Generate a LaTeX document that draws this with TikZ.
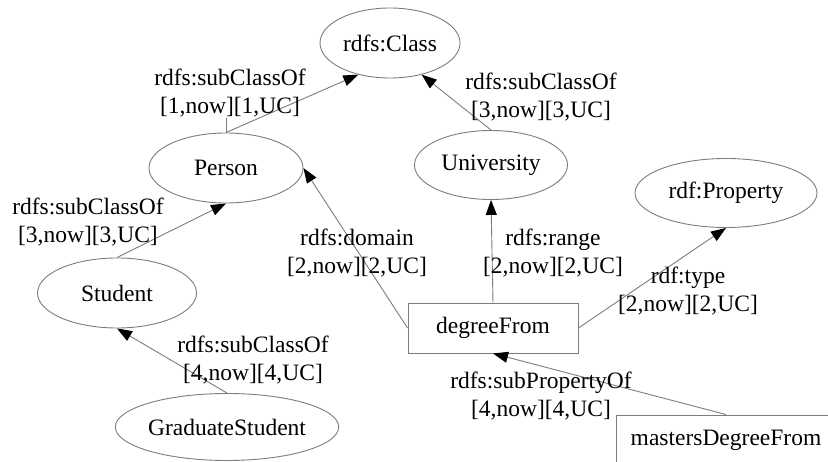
\documentclass[tikz,border=0pt]{standalone}
\usepackage{fontspec}
\setmainfont{Liberation Serif}
\usetikzlibrary{shapes.geometric,arrows.meta}
\definecolor{linegray}{RGB}{125,125,125}
\tikzset{
  every node/.style={font=\fontsize{23.5}{28}\selectfont},
  ell/.style={ellipse,draw=linegray,line width=0.9pt,inner sep=0pt},
  boxnode/.style={rectangle,draw=linegray,line width=0.9pt,inner sep=0pt},
  edge/.style={draw=linegray,line width=0.9pt,-{Triangle[length=15pt,width=11pt,color=black,fill=black]},shorten >=0pt},
  lbl/.style={align=center,inner sep=0pt}
}
\begin{document}
\begin{tikzpicture}[x=1pt,y=-1pt]
\useasboundingbox (0,0) rectangle (828,462);
\clip (0,0) rectangle (828,462);
\fill[white] (0,0) rectangle (828,462);
% nodes
\node[ell,minimum width=140pt,minimum height=70pt] (class) at (390,43) {rdfs:Class};
\node[ell,minimum width=154pt,minimum height=70pt] (person) at (226,168) {Person};
\node[ell,minimum width=153pt,minimum height=69pt] (univ) at (491,165) {University};
\node[ell,minimum width=182pt,minimum height=69pt] (prop) at (726,193) {rdf:Property};
\node[ell,minimum width=159pt,minimum height=70pt] (student) at (117,293) {Student};
\node[ell,minimum width=217pt,minimum height=67pt] (gs) at (227,427) {GraduateStudent};
\node[boxnode,minimum width=170pt,minimum height=50pt] (df) at (493,328) {degreeFrom};
\node[boxnode,minimum width=220pt,minimum height=50pt] (mdf) at (726,440) {mastersDegreeFrom};
% edges
\draw[edge] (person.north) -- (class.225);
\draw[linegray,line width=0.9pt] (person.north) -- ++(0,-15) coordinate (tick);
\draw[edge] (univ.north) -- (class.315);
\draw[edge] (student.north) -- (person.south);
\draw[edge] (gs.north) -- (student.south);
\draw[edge] (df.west) -- (person.east);
\draw[edge] (df.north) -- (univ.south);
\draw[edge] (df.east) -- (prop.south);
\draw[edge] (mdf.north) -- (df.south);
% labels
\node[lbl] (l1) at (230,93) {rdfs:subClassOf\\{}[1,now][1,UC]};
\node[lbl] (l2) at (541,97) {rdfs:subClassOf\\{}[3,now][3,UC]};
\node[lbl] (l3) at (88,222) {rdfs:subClassOf\\{}[3,now][3,UC]};
\node[lbl] (l4) at (357,253) {rdfs:domain\\{}[2,now][2,UC]};
\node[lbl] (l5) at (553,253) {rdfs:range\\{}[2,now][2,UC]};
\node[lbl] (l6) at (688,291) {rdf:type\\{}[2,now][2,UC]};
\node[lbl] (l7) at (253,360) {rdfs:subClassOf\\{}[4,now][4,UC]};
\node[lbl] (l8) at (541,396) {rdfs:subPropertyOf\\{}[4,now][4,UC]};
\end{tikzpicture}
\end{document}
